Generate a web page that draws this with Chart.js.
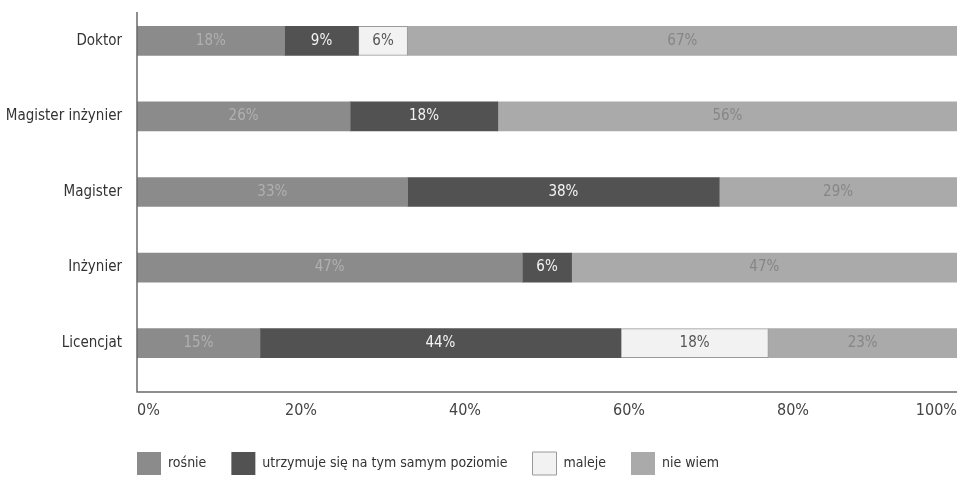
<!DOCTYPE html>
<html>
<head>
<meta charset="utf-8">
<script src="https://cdn.jsdelivr.net/npm/chart.js@4"></script>
<style>
  html, body { margin: 0; padding: 0; background: #fff; }
  #wrap { width: 963px; height: 496px; }
</style>
</head>
<body>
<div id="wrap"><canvas id="chart"></canvas></div>
<script>
const categories = ['Doktor', 'Magister inżynier', 'Magister', 'Inżynier', 'Licencjat'];
const seriesNames = ['rośnie', 'utrzymuje się na tym samym poziomie', 'maleje', 'nie wiem'];
const rosnie = [18, 26, 33, 47, 15];
const utrzymuje = [9, 18, 38, 6, 44];
const maleje = [6, 0, 0, 0, 18];
const nieWiem = [67, 56, 29, 47, 23];
const xTicks = [0, 20, 40, 60, 80, 100];

const FONT = "'Liberation Sans Narrow', 'DejaVu Sans Condensed', 'Roboto', sans-serif";
const fills = ['#8b8b8b', '#525252', '#f2f2f2', '#aaaaaa'];
const labelColors = ['#b0b0b0', '#f4f4f4', '#555555', '#868686'];

// percent labels inside each segment, placed from the bar elements
const segmentLabels = {
  id: 'segmentLabels',
  afterDatasetsDraw(chart) {
    const ctx = chart.ctx;
    ctx.save();
    ctx.font = '15px ' + FONT;
    ctx.textAlign = 'center';
    ctx.textBaseline = 'middle';
    chart.data.datasets.forEach((ds, i) => {
      chart.getDatasetMeta(i).data.forEach((bar, j) => {
        const v = ds.data[j];
        if (!v) return;
        ctx.fillStyle = labelColors[i];
        ctx.fillText(v + '%', (bar.x + bar.base) / 2, bar.y);
      });
    });
    ctx.restore();
  }
};

// axis lines, the x line sits a bit below the last band
const axisLines = {
  id: 'axisLines',
  afterDraw(chart) {
    const {ctx, chartArea} = chart;
    ctx.save();
    ctx.strokeStyle = '#6a6a6a';
    ctx.lineWidth = 1.5;
    ctx.beginPath();
    ctx.moveTo(chartArea.left, chartArea.top + 9);
    ctx.lineTo(chartArea.left, chartArea.bottom + 11);
    ctx.lineTo(chartArea.right, chartArea.bottom + 11);
    ctx.stroke();
    ctx.restore();
  }
};

// legend starts under the plot, not at the canvas edge
const legendShift = {
  id: 'legendShift',
  afterLayout(chart) {
    const lg = chart.legend;
    const dx = chart.chartArea.left - 25;
    lg.left += dx;
    lg.right += dx;
  }
};

const datasets = [rosnie, utrzymuje, maleje, nieWiem].map((d, i) => ({
  label: seriesNames[i],
  data: d,
  backgroundColor: fills[i],
  borderColor: i === 2 ? '#9a9a9a' : fills[i],
  borderWidth: i === 2 ? 1 : 0,
  borderSkipped: false,
  barThickness: 29
}));

new Chart(document.getElementById('chart'), {
  type: 'bar',
  data: { labels: categories, datasets: datasets },
  plugins: [segmentLabels, axisLines, legendShift],
  options: {
    indexAxis: 'y',
    responsive: true,
    maintainAspectRatio: false,
    animation: false,
    layout: { padding: { left: 0, right: 6, top: 3, bottom: 11 } },
    scales: {
      x: {
        stacked: true,
        min: 0,
        max: 100,
        afterBuildTicks(scale) { scale.ticks = xTicks.map(v => ({ value: v })); },
        afterFit(scale) { scale.paddingRight = 0; scale.paddingLeft = 0; scale.height = 46; },
        grid: { display: false, drawTicks: false },
        border: { display: false },
        ticks: {
          align: 'inner',
          padding: 20,
          color: '#444',
          font: { family: FONT, size: 16 },
          callback: v => v + '%'
        }
      },
      y: {
        stacked: true,
        afterFit(scale) { scale.width = 137; scale.paddingTop = 0; scale.paddingBottom = 0; },
        grid: { display: false, drawTicks: false },
        border: { display: false },
        ticks: {
          padding: 15,
          color: '#333',
          font: { family: FONT, size: 15 }
        }
      }
    },
    plugins: {
      tooltip: { enabled: false },
      legend: {
        position: 'bottom',
        align: 'start',
        labels: {
          boxWidth: 24,
          boxHeight: 23,
          padding: 25,
          color: '#333',
          font: { family: FONT, size: 14 }
        }
      }
    }
  }
});
</script>
</body>
</html>
